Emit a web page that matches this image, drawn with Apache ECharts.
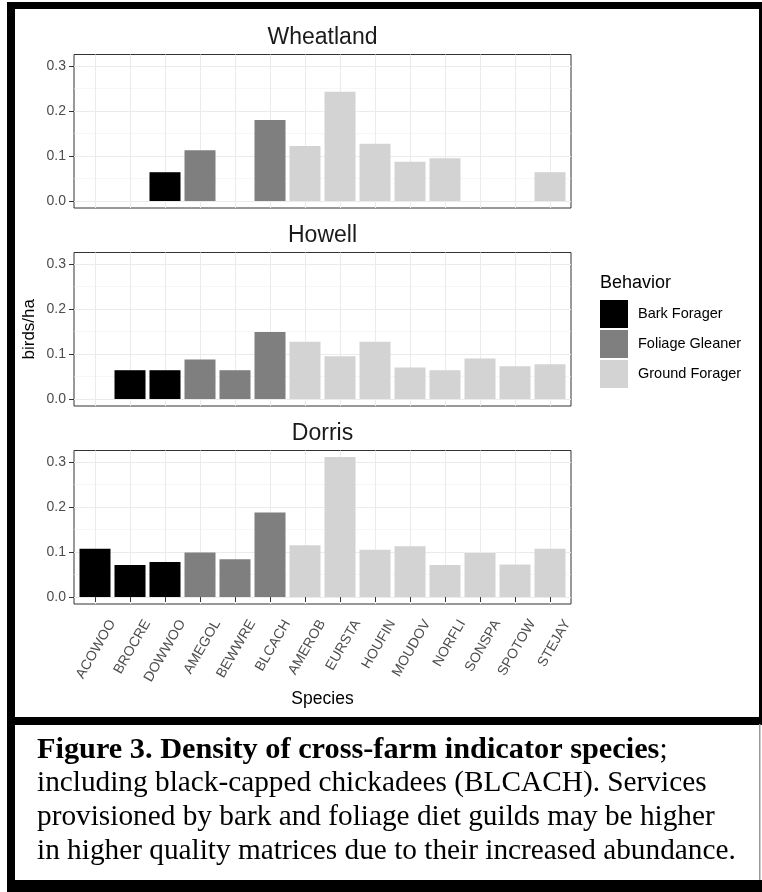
<!DOCTYPE html>
<html>
<head>
<meta charset="utf-8">
<script src="https://cdn.jsdelivr.net/npm/echarts@6/dist/echarts.min.js"></script>
<style>
html,body{margin:0;padding:0;background:#fff;}
#c{width:762px;height:892px;}
</style>
</head>
<body>
<div id="c"></div>
<script>
const species = ['ACOWOO','BROCRE','DOWWOO','AMEGOL','BEWWRE','BLCACH','AMEROB','EURSTA','HOUFIN','MOUDOV','NORFLI','SONSPA','SPOTOW','STEJAY'];
const behavior = ['Bark Forager','Bark Forager','Bark Forager','Foliage Gleaner','Foliage Gleaner','Foliage Gleaner','Ground Forager','Ground Forager','Ground Forager','Ground Forager','Ground Forager','Ground Forager','Ground Forager','Ground Forager'];
const behaviors = ['Bark Forager','Foliage Gleaner','Ground Forager'];
const farms = ['Wheatland','Howell','Dorris'];
const wheatland = [null,null,0.064,0.113,null,0.180,0.122,0.243,0.127,0.087,0.095,null,null,0.064];
const howell    = [null,0.064,0.064,0.088,0.064,0.149,0.127,0.095,0.127,0.070,0.064,0.090,0.073,0.077];
const dorris    = [0.107,0.071,0.078,0.099,0.084,0.188,0.115,0.311,0.105,0.113,0.071,0.098,0.072,0.107];
const yTicks = [0,0.1,0.2,0.3];
const yMinor = [0.05,0.15,0.25];

const farmValues = [wheatland, howell, dorris];
const colors = {'Bark Forager':'#000000','Foliage Gleaner':'#7f7f7f','Ground Forager':'#d3d3d3'};
const catPos = species.map((s,i)=>i+1);

const G_LEFT = 74, G_W = 497, G_H = 153.5;
const tops = [54.5, 252.5, 450.5];
const YMIN = -0.0155, YMAX = 0.3255;
const sans = 'Liberation Sans, Arial, sans-serif';
const serif = 'Liberation Serif, Times New Roman, serif';

const grid = [], xAxis = [], yAxis = [], series = [], graphic = [];
farms.forEach((f,p)=>{
  grid.push({left:G_LEFT, top:tops[p], width:G_W, height:G_H, show:true, borderColor:'#333333', borderWidth:1, backgroundColor:'#fff', containLabel:false});
  const last = p===2;
  xAxis.push({type:'value', gridIndex:p, min:0.4, max:14.6,
    axisLine:{show:false},
    axisTick:{show:last, customValues:catPos, length:5, lineStyle:{color:'#333333'}},
    axisLabel:{show:last, customValues:catPos, rotate:60, align:'right', verticalAlign:'top', margin:7,
      padding:[13,0,0,0],
      color:'#4d4d4d', fontSize:14, fontFamily:sans,
      formatter:(v)=>species[Math.round(v)-1]},
    splitLine:{show:true, lineStyle:{color:'#ebebeb', width:1}},
    name: last ? 'Species' : '', nameLocation:'middle', nameGap:86, nameMoveOverlap:false,
    nameTextStyle:{color:'#000', fontSize:17.5, fontFamily:sans}
  });
  yAxis.push({type:'value', gridIndex:p, min:YMIN, max:YMAX,
    axisLine:{show:false},
    axisTick:{show:true, customValues:yTicks, length:5, lineStyle:{color:'#333333'}},
    axisLabel:{customValues:yTicks, color:'#4d4d4d', fontSize:14, fontFamily:sans, margin:8, formatter:(v)=>v.toFixed(1)},
    splitLine:{show:true, lineStyle:{color:'#ebebeb', width:1}},
    name: p===1 ? 'birds/ha' : '', nameLocation:'middle', nameGap:36, nameRotate:90, nameMoveOverlap:false,
    nameTextStyle:{color:'#000', fontSize:17, fontFamily:sans}
  });
  // minor grid axis
  yAxis.push({type:'value', gridIndex:p, min:YMIN, max:YMAX, position:'right',
    axisLine:{show:false}, axisLabel:{show:false},
    axisTick:{show:false, customValues:yMinor},
    splitLine:{show:true, lineStyle:{color:'#f2f2f2', width:0.6}}
  });
  behaviors.forEach(b=>{
    const data = [];
    species.forEach((s,i)=>{ if(behavior[i]===b && farmValues[p][i]!=null) data.push([catPos[i], farmValues[p][i]]); });
    series.push({name:b, type:'bar', xAxisIndex:p, yAxisIndex:p*2, data:data, barWidth:31, barGap:'-100%',
      itemStyle:{color:colors[b]}, z:3});
  });
  graphic.push({type:'text', x:G_LEFT+G_W/2, y:tops[p]-17, style:{text:f, fill:'#1a1a1a', font:'23px '+sans, align:'center', verticalAlign:'middle'}, z:10});
});

// frame and caption
graphic.push(
  {type:'rect', shape:{x:7,y:2,width:755,height:7}, style:{fill:'#000'}, z:20},
  {type:'rect', shape:{x:7,y:2,width:8,height:890}, style:{fill:'#000'}, z:20},
  {type:'rect', shape:{x:759,y:2,width:3,height:722}, style:{fill:'#000'}, z:20},
  {type:'rect', shape:{x:7,y:717,width:755,height:8}, style:{fill:'#000'}, z:20},
  {type:'rect', shape:{x:7,y:880,width:755,height:12}, style:{fill:'#000'}, z:20},
  {type:'rect', shape:{x:759,y:724,width:1.5,height:156}, style:{fill:'#999'}, z:20},
  {type:'text', x:600, y:283, style:{text:'Behavior', fill:'#000', font:'18px '+sans, verticalAlign:'middle'}, z:10},
  {type:'text', x:37, y:750, style:{
    text:'{b|Figure 3. Density of cross-farm indicator species}{n|;}',
    verticalAlign:'middle',
    rich:{b:{fontFamily:serif, fontSize:30.3, fontWeight:'bold', fill:'#000'}, n:{fontFamily:serif, fontSize:29.3, fill:'#000'}}
  }, z:10},
  {type:'text', x:37, y:783, style:{text:'including black-capped chickadees (BLCACH). Services', font:'29.3px '+serif, fill:'#000', verticalAlign:'middle'}, z:10},
  {type:'text', x:37, y:817, style:{text:'provisioned by bark and foliage diet guilds may be higher', font:'29.3px '+serif, fill:'#000', verticalAlign:'middle'}, z:10},
  {type:'text', x:37, y:851, style:{text:'in higher quality matrices due to their increased abundance.', font:'29.3px '+serif, fill:'#000', verticalAlign:'middle'}, z:10}
);

const chart = echarts.init(document.getElementById('c'), null, {renderer:'canvas'});
chart.setOption({
  backgroundColor:'#fff',
  animation:false,
  grid, xAxis, yAxis, series, graphic,
  legend:{data:behaviors, orient:'vertical', left:600, top:300, padding:0, itemWidth:28, itemHeight:28, itemGap:2, icon:'rect',
    textStyle:{color:'#000', fontSize:14.5, fontFamily:sans, padding:[0,0,0,5]}, selectedMode:false}
});
</script>
</body>
</html>
